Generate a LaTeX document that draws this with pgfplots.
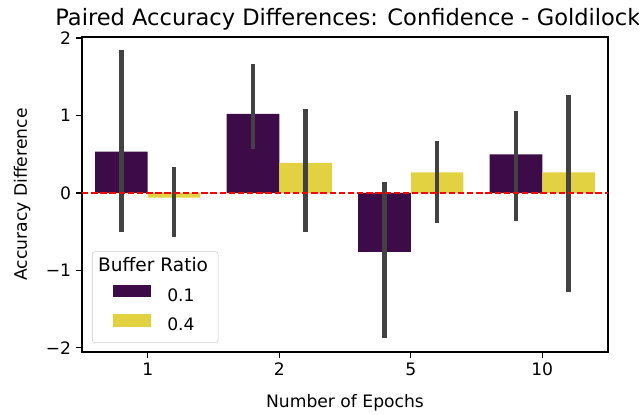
\documentclass[border=0pt]{standalone}
\usepackage{fontspec}
\setmainfont{DejaVu Sans}
\usepackage{pgfplots}
\pgfplotsset{compat=1.18}
\definecolor{cpurple}{HTML}{3E0B49}
\definecolor{cyellow}{HTML}{E2D140}
\definecolor{cerr}{HTML}{424242}
\begin{document}
\begin{tikzpicture}
\useasboundingbox (-59.04bp,-45.36bp) rectangle (401.04bp,253.44bp);
\begin{axis}[
  at={(0,0)}, anchor=south west,
  scale only axis, width=378.72bp, height=226.8bp,
  xmin=-0.5, xmax=3.5, ymin=-2.055, ymax=2.015,
  xtick={0,1,2,3}, xticklabels={1,2,5,10},
  ytick={-2,-1,0,1,2}, yticklabels={−2,−1,0,1,2},
  tick pos=left, tick align=outside, major tick length=4.3bp,
  every tick/.style={black, line width=1bp},
  axis line style={line width=1bp},
  ticklabel style={font=\fontsize{12.4}{14}\selectfont},
  label style={font=\fontsize{12.4}{14}\selectfont},
  every axis title/.style={font=\fontsize{16.3}{19}\selectfont, inner sep=0pt, at={(axis description cs:0,1)}, anchor=base west, yshift=8.3bp, xshift=-19.4bp},
  title={Paired Accuracy Differences: Confidence - Goldilock},
  xlabel={Number of Epochs}, ylabel={Accuracy Difference},
  xlabel style={at={(axis description cs:0.5,-0.1746)}, anchor=base},
  ylabel style={at={(axis description cs:-0.1046,0.5)}, anchor=base},
  bar width=0.4,
  legend style={at={(0.019,0.0286)}, anchor=south west, draw=black!20,
    rounded corners=2bp, fill=white, inner xsep=4.3bp, inner ysep=6bp,
    font=\fontsize{12.4}{14}\selectfont, cells={anchor=west},
    nodes={inner sep=0pt, text height=8.5bp, text depth=2.5bp},
    row sep=6.8bp, column sep=11.7bp},
]
\addlegendimage{empty legend}
\addlegendentry{\hspace{-49.7bp}{\fontsize{13.4}{15}\selectfont Buffer Ratio}\hspace{3bp}\null}
\addplot[ybar, bar shift=-0.2, fill=cpurple, draw=none,
  legend image code/.code={\path (0bp,0bp); \fill[cpurple, sharp corners] (10.4bp,-0.2bp) rectangle (38bp,9bp);}]
coordinates {(0,0.533) (1,1.023) (2,-0.76) (3,0.50)};
\addlegendentry{0.1}
\addplot[ybar, bar shift=0.2, fill=cyellow, draw=none,
  legend image code/.code={\path (0bp,0bp); \fill[cyellow, sharp corners] (10.4bp,-0.2bp) rectangle (38bp,9bp);}]
coordinates {(0,-0.06) (1,0.39) (2,0.267) (3,0.267)};
\addlegendentry{0.4}
% error bars (confidence intervals), placed at the dodged bar centres
\addplot[sharp plot, draw=none, no marks, forget plot,
  error bars/.cd, y dir=both, y explicit, error mark=none,
  error bar style={draw=cerr, line width=3.2bp, solid}]
coordinates {
  (-0.2,0.533) += (0,1.312) -= (0,1.033)
  (0.8,1.023) += (0,0.647) -= (0,0.453)
  (1.8,-0.76) += (0,0.906) -= (0,1.12)
  (2.8,0.50)  += (0,0.558) -= (0,0.86)
};
\addplot[sharp plot, draw=none, no marks, forget plot,
  error bars/.cd, y dir=both, y explicit, error mark=none,
  error bar style={draw=cerr, line width=3.2bp, solid}]
coordinates {
  (0.2,-0.06) += (0,0.40) -= (0,0.51)
  (1.2,0.39)  += (0,0.70) -= (0,0.89)
  (2.2,0.267) += (0,0.408) -= (0,0.657)
  (3.2,0.267) += (0,1.003) -= (0,1.553)
};
\addplot[sharp plot, red, line width=1.24bp, dash pattern=on 4.6bp off 2bp, forget plot, no marks]
coordinates {(-0.5,0) (3.5,0)};
\end{axis}
\end{tikzpicture}
\end{document}
